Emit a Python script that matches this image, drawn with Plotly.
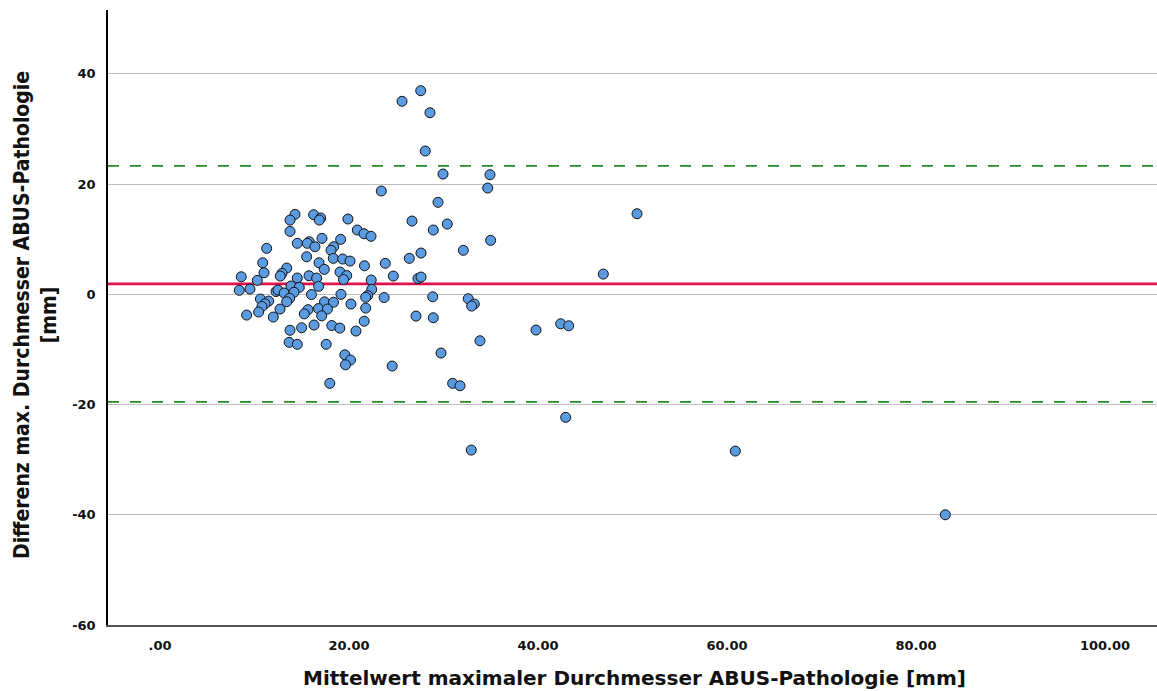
import plotly.graph_objects as go

x_mean = [
    23.42, 14.29, 13.76, 16.26, 17.01, 16.86, 19.89, 26.67, 13.76, 20.88,
    21.59, 22.33, 17.14, 19.12, 15.80, 15.59, 14.53, 16.40, 11.29, 18.38,
    18.10, 27.62, 15.52, 18.34, 19.33, 20.11, 26.38, 23.84, 10.87, 16.83,
    21.64, 17.39, 13.41, 11.01, 19.05, 24.69, 12.91, 12.73, 8.60, 15.77,
    19.76, 14.53, 16.58, 19.42, 22.35, 27.30, 27.62, 10.30, 13.86, 14.74,
    16.79, 8.39, 9.52, 12.28, 12.49, 13.14, 14.18, 22.41, 19.15, 16.03,
    21.98, 21.77, 13.72, 10.63, 23.72, 11.50, 13.41, 11.11, 10.79, 17.41,
    18.36, 20.21, 16.77, 17.72, 12.70, 15.66, 21.77, 10.44, 15.27, 17.11,
    9.17, 11.99, 27.09, 21.61, 16.30, 14.99, 18.18, 19.03, 13.76, 20.74,
    13.67, 14.53, 17.59, 19.56, 20.16, 19.63, 24.57, 17.97,
    27.59, 25.61, 28.57, 28.07, 29.95, 34.92, 34.68, 29.42, 30.40, 28.92,
    34.99, 32.10, 28.86, 32.62, 33.26, 32.98, 28.92, 39.79, 42.40, 43.25,
    33.86, 29.74, 30.97, 31.75, 42.93, 32.94, 46.91, 50.48, 60.88, 83.10,
]
y_diff = [
    18.75, 14.52, 13.48, 14.45, 13.85, 13.48, 13.67, 13.30, 11.43, 11.67,
    11.00, 10.53, 10.16, 9.98, 9.55, 9.26, 9.26, 8.64, 8.35, 8.64,
    7.99, 7.50, 6.82, 6.53, 6.41, 6.04, 6.53, 5.63, 5.73, 5.73,
    5.19, 4.54, 4.77, 3.92, 4.05, 3.32, 3.81, 3.32, 3.19, 3.38,
    3.41, 2.96, 2.96, 2.69, 2.60, 2.87, 3.14, 2.54, 1.51, 1.27,
    1.45, 0.73, 0.96, 0.51, 0.78, 0.24, 0.38, 0.91, 0.00, -0.04,
    -0.22, -0.53, -0.71, -0.85, -0.58, -1.22, -1.34, -1.71, -2.21, -1.36,
    -1.43, -1.76, -2.58, -2.67, -2.67, -2.78, -2.49, -3.21, -3.54, -3.90,
    -3.76, -4.12, -3.94, -4.88, -5.57, -6.06, -5.66, -6.12, -6.52, -6.66,
    -8.71, -9.07, -9.06, -10.98, -11.92, -12.79, -13.01, -16.15,
    36.95, 35.03, 32.96, 26.01, 21.83, 21.71, 19.29, 16.70, 12.76, 11.67,
    9.80, 7.99, -0.44, -0.80, -1.76, -2.12, -4.25, -6.48, -5.34, -5.70,
    -8.42, -10.65, -16.15, -16.59, -22.32, -28.26, 3.68, 14.63, -28.44, -40.00,
]

mean_diff = 1.9
loa_upper = 23.3
loa_lower = -19.5

x_tick_vals = [0, 20, 40, 60, 80, 100]
x_tick_text = [".00", "20.00", "40.00", "60.00", "80.00", "100.00"]
y_tick_vals = [-60, -40, -20, 0, 20, 40]
y_tick_text = ["-60", "-40", "-20", "0", "20", "40"]

x_title = "Mittelwert maximaler Durchmesser ABUS-Pathologie [mm]"
y_title = "Differenz max. Durchmesser ABUS-Pathologie<br>[mm]"

fig = go.Figure()
fig.add_trace(go.Scatter(
    x=x_mean, y=y_diff, mode="markers",
    marker=dict(size=10, color="#5b9be2", line=dict(color="#111111", width=1)),
    hoverinfo="x+y", showlegend=False,
))

shapes = [
    dict(type="line", xref="paper", x0=0, x1=1, yref="y", y0=mean_diff, y1=mean_diff,
         line=dict(color="#e0104f", width=2.6), layer="between"),
    dict(type="line", xref="paper", x0=0, x1=1, yref="y", y0=loa_upper, y1=loa_upper,
         line=dict(color="#238b23", width=1.8, dash="11px,11px"), layer="between"),
    dict(type="line", xref="paper", x0=0, x1=1, yref="y", y0=loa_lower, y1=loa_lower,
         line=dict(color="#238b23", width=1.8, dash="11px,11px"), layer="between"),
]

tick_font = dict(family="DejaVu Sans", size=13, color="#111111", weight="bold")
title_font = dict(family="DejaVu Sans", size=20, color="#111111", weight="bold")
ytitle_font = dict(family="Liberation Sans Narrow, DejaVu Sans Condensed, Liberation Sans",
                   size=21, color="#111111", weight="bold")

fig.update_layout(
    width=1157, height=691,
    margin=dict(l=108, r=0, t=10, b=66),
    paper_bgcolor="white", plot_bgcolor="white",
    shapes=shapes,
    xaxis=dict(
        range=[-5.5, 105.5], tickvals=x_tick_vals, ticktext=x_tick_text,
        showgrid=False, zeroline=False, ticks="",
        showline=True, linecolor="#555555", linewidth=1.5,
        tickfont=tick_font, ticklabelstandoff=8,
    ),
    yaxis=dict(
        range=[-60, 51.6], tickvals=y_tick_vals, ticktext=y_tick_text,
        showgrid=True, gridcolor="#bdbdbd", gridwidth=1, zeroline=False, ticks="",
        showline=True, linecolor="#000000", linewidth=1.5,
        tickfont=tick_font, ticklabelstandoff=8,
    ),
    annotations=[
        dict(text=x_title, xref="paper", yref="paper", x=0.502, y=0,
             xanchor="center", yanchor="middle", yshift=-53, showarrow=False,
             font=title_font),
        dict(text=y_title, xref="paper", yref="paper", x=0, y=0.504,
             xanchor="center", yanchor="middle", xshift=-73, showarrow=False,
             textangle=-90, font=ytitle_font),
    ],
)

fig.write_html("out.html")
